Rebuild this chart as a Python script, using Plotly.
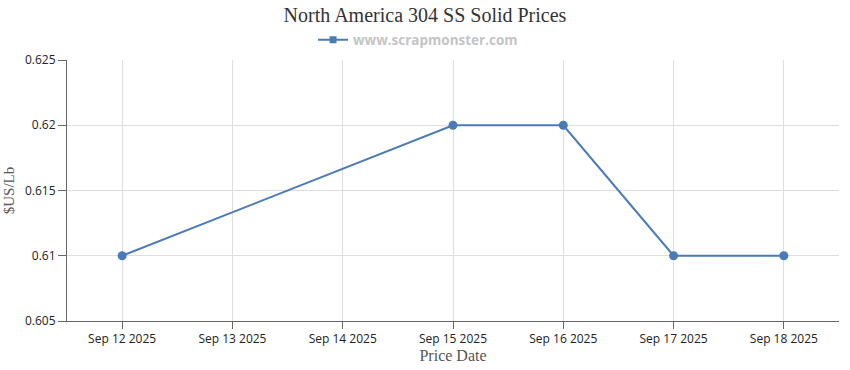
import plotly.graph_objects as go

dates = ["2025-09-12", "2025-09-15", "2025-09-16", "2025-09-17", "2025-09-18"]
prices = [0.61, 0.62, 0.62, 0.61, 0.61]
tick_dates = ["2025-09-12", "2025-09-13", "2025-09-14", "2025-09-15", "2025-09-16", "2025-09-17", "2025-09-18"]
tick_labels = ["Sep 12 2025", "Sep 13 2025", "Sep 14 2025", "Sep 15 2025", "Sep 16 2025", "Sep 17 2025", "Sep 18 2025"]
y_ticks = [0.605, 0.61, 0.615, 0.62, 0.625]
y_labels = ["0.605", "0.61", "0.615", "0.62", "0.625"]
series_name = "www.scrapmonster.com"
color = "#4a7bb7"

fig = go.Figure()
fig.add_trace(go.Scatter(
    x=dates, y=prices, mode="lines+markers", name=series_name, showlegend=False,
    line=dict(color=color, width=2),
    marker=dict(color=color, size=9, symbol="circle"),
))
# legend entry (square marker on a line, as in the reference legend)
fig.add_trace(go.Scatter(
    x=[None], y=[None], mode="lines+markers", name=series_name,
    line=dict(color=color, width=2),
    marker=dict(color=color, size=7, symbol="square"),
))

fig.update_layout(
    width=850, height=370,
    margin=dict(l=67, r=11, t=60, b=49, autoexpand=False),
    paper_bgcolor="white", plot_bgcolor="white",
    title=dict(text="North America 304 SS Solid Prices", x=0.5, xanchor="center", xref="container",
               y=0.9595, yanchor="middle", yref="container",
               font=dict(family="Liberation Serif", size=20, color="#333")),
    showlegend=True,
    legend=dict(orientation="h", x=0.4547, xanchor="center", y=1.0766, yanchor="middle",
                font=dict(family="Open Sans", size=13.5, color="#c4c4c4", weight="bold"),
                bgcolor="rgba(0,0,0,0)", itemwidth=30),
    font=dict(family="Open Sans", size=12, color="#222"),
)

fig.update_xaxes(
    type="date", range=["2025-09-11 12:00", "2025-09-18 12:00"],
    tickvals=tick_dates, ticktext=tick_labels,
    showgrid=True, gridcolor="#dedede", gridwidth=1,
    showline=True, linecolor="#666", linewidth=1,
    ticks="outside", ticklen=7, tickcolor="#666",
    tickfont=dict(family="Open Sans", size=12, color="#222"),
    title=dict(text="Price Date", font=dict(family="Liberation Serif", size=16, color="#555"), standoff=0),
)
fig.update_yaxes(
    range=[0.605, 0.625], tickvals=y_ticks, ticktext=y_labels,
    showgrid=True, gridcolor="#dedede", gridwidth=1,
    showline=True, linecolor="#666", linewidth=1,
    ticks="outside", ticklen=8, tickcolor="#666",
    tickfont=dict(family="Open Sans", size=12, color="#222"),
    title=dict(text="$US/Lb", font=dict(family="Liberation Serif", size=15, color="#555"), standoff=6),
    automargin=True,
    zeroline=False,
)

fig.write_html("out.html", config={"displayModeBar": False},
               post_script="document.body.style.margin='0';")
